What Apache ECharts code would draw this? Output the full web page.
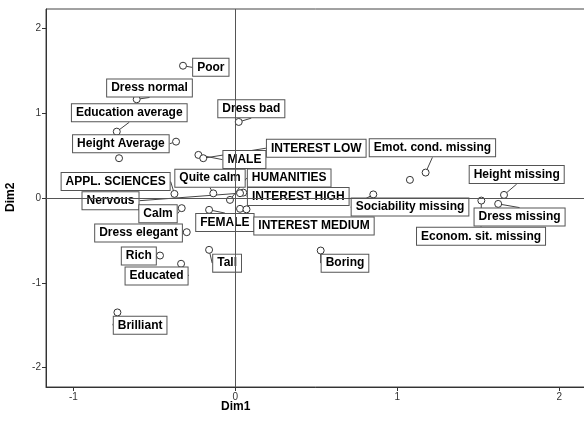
<!DOCTYPE html>
<html><head><meta charset="utf-8">
<script src="https://cdn.jsdelivr.net/npm/echarts@6/dist/echarts.min.js"></script>
<style>html,body{margin:0;padding:0;background:#fff;overflow:hidden}#c{width:584px;height:426px}</style>
</head><body><div id="c"></div>
<script>
var names = ["Poor","Dress normal","Education average","Height Average","","Dress bad","MALE","INTEREST LOW",
  "APPL. SCIENCES","Quite calm","HUMANITIES","INTEREST HIGH","Nervous","Calm","FEMALE","","INTEREST MEDIUM",
  "Dress elegant","Rich","Educated","Tall","Brilliant","Boring","Sociability missing","","Emot. cond. missing",
  "Height missing","Econom. sit. missing","Dress missing"];
var dim1 = [-0.323,-0.609,-0.732,-0.366,-0.718,0.021,-0.228,-0.198,
  -0.376,-0.136,-0.033,0.049,0.029,-0.331,-0.162,0.029,0.069,
  -0.300,-0.465,-0.335,-0.162,-0.728,0.527,0.852,1.078,1.175,
  1.659,1.519,1.623];
var dim2 = [1.556,1.161,0.780,0.662,0.467,0.894,0.506,0.467,
  0.047,0.053,-0.024,0.062,0.055,-0.121,-0.141,-0.129,-0.135,
  -0.404,-0.679,-0.776,-0.612,-1.349,-0.620,0.041,0.212,0.298,
  0.035,-0.032,-0.071];
var xTicks = [-1,0,1,2];
var yTicks = [-2,-1,0,1,2];
// label offsets (px) from each point
var labelDx = [27.8,12.8,12.5,-55.2,0,12.6,46,113,-58.8,-3.3,59.2,55,-129.5,-23.7,15.8,0,67.5,-48.2,-21.2,-24.5,18,22.7,24.3,36.7,0,6.8,12.7,-0.3,21.4];
var labelDy = [1.6,-11.3,-18.9,2.1,0,-13.3,4.7,-10,-12.3,-15.2,-22,4,7.5,5.5,12.7,0,16.7,0.9,0.5,12.2,13.3,12.8,12.6,12.7,0,-24.7,-20.3,35.6,13.2];

var data = dim1.map(function(x,i){
  var d = {value:[x,dim2[i]], name:names[i]};
  if (!names[i]) { d.label = {show:false}; d.labelLine = {show:false}; }
  return d;
});
var chart = echarts.init(document.getElementById('c'));
function axis(min,max,ticks){
  return {type:'value',min:min,max:max,
    axisLine:{show:true,onZero:false,lineStyle:{color:'#333',width:1}},
    axisTick:{show:true,length:4,lineStyle:{color:'#333'},customValues:ticks},
    axisLabel:{color:'#333',fontSize:10,fontFamily:'Liberation Sans',margin:5,customValues:ticks},
    splitLine:{show:false}};
}
chart.setOption({
  animation:false,
  grid:{left:46,top:9,right:-6,bottom:39,outerBoundsMode:'none',containLabel:false,show:true,borderColor:'#444',borderWidth:1,backgroundColor:'transparent'},
  xAxis:axis(-1.169,2.19,xTicks),
  yAxis:axis(-2.227,2.224,yTicks),
  graphic:[
    {type:'text',left:221,top:401,style:{text:'Dim1',font:'bold 12px "Liberation Sans"',fill:'#000'}},
    {type:'text',x:5,y:212,rotation:Math.PI/2,style:{text:'Dim2',font:'bold 12px "Liberation Sans"',fill:'#000'}}
  ],
  series:[{
    type:'scatter',
    data:data,
    symbol:'circle',
    symbolSize:7,
    itemStyle:{color:'#fff',borderColor:'#333',borderWidth:1,opacity:1},
    label:{show:true,position:'inside',formatter:function(p){return p.name;},
      fontFamily:'Liberation Sans',fontWeight:'bold',fontSize:12,lineHeight:13,color:'#000',
      backgroundColor:'#fff',borderColor:'#555',borderWidth:1,padding:[2,4,2,4]},
    labelLine:{show:true,lineStyle:{color:'#444',width:1}},
    labelLayout:function(p){return {dx:labelDx[p.dataIndex],dy:labelDy[p.dataIndex],hideOverlap:false};},
    markLine:{silent:true,symbol:'none',label:{show:false},lineStyle:{color:'#555',type:'solid',width:1},
      data:[{xAxis:0},{yAxis:0}]},
    z:3
  }]
});
</script></body></html>
